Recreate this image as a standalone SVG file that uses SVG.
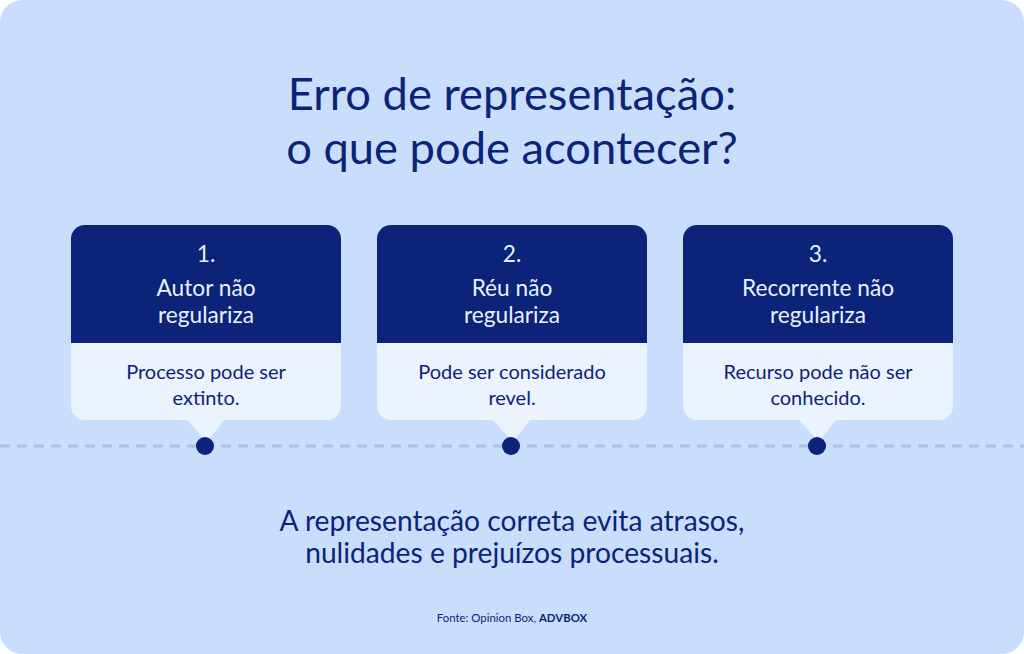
<svg xmlns="http://www.w3.org/2000/svg" width="1024" height="654" viewBox="0 0 1024 654">
<defs>
<style>
.t{font-family:Lato,"Noto Sans",sans-serif;fill:#0c2478;text-anchor:middle}
.h{font-family:Lato,"Noto Sans",sans-serif;fill:#e8f1ff;text-anchor:middle;font-size:22.7px}
.b{font-family:Lato,"Noto Sans",sans-serif;fill:#0c2478;text-anchor:middle;font-size:20px}
.top{fill:#0b2379}
.bot{fill:#eaf3fe}
.dot{fill:#0b2379}
</style>
</defs>
<rect x="0" y="0" width="1024" height="654" fill="#ffffff"/>
<rect x="0" y="0" width="1024" height="654" rx="22" fill="#c9defd"/>
<g id="title">
<text class="t" x="512" y="110" font-size="45.3">Erro de representação:</text>
<text class="t" x="512" y="164" font-size="45.3">o que pode acontecer?</text>
</g>
<g id="connectors">
<line x1="0" y1="446" x2="1024" y2="446" stroke="#a9c2e6" stroke-width="3" stroke-dasharray="10 7"/>
</g>
<g id="card1">
<path class="bot" d="M71 343 H341 V406 a14 14 0 0 1 -14 14 H224 L207 442 L187 420 H85 a14 14 0 0 1 -14 -14 Z"/>
<path class="top" d="M85 225 H327 a14 14 0 0 1 14 14 V343 H71 V239 a14 14 0 0 1 14 -14 Z"/>
<text class="h" x="206" y="262">1.</text>
<text class="h" x="206" y="296">Autor não</text>
<text class="h" x="206" y="323">regulariza</text>
<text class="b" x="206" y="379">Processo pode ser</text>
<text class="b" x="206" y="405">extinto.</text>
<circle class="dot" cx="205" cy="446" r="9"/>
</g>
<g id="card2">
<path class="bot" d="M377 343 H647 V406 a14 14 0 0 1 -14 14 H530 L513 442 L493 420 H391 a14 14 0 0 1 -14 -14 Z"/>
<path class="top" d="M391 225 H633 a14 14 0 0 1 14 14 V343 H377 V239 a14 14 0 0 1 14 -14 Z"/>
<text class="h" x="512" y="262">2.</text>
<text class="h" x="512" y="296">Réu não</text>
<text class="h" x="512" y="323">regulariza</text>
<text class="b" x="512" y="379">Pode ser considerado</text>
<text class="b" x="512" y="405">revel.</text>
<circle class="dot" cx="511" cy="446" r="9"/>
</g>
<g id="card3">
<path class="bot" d="M683 343 H953 V406 a14 14 0 0 1 -14 14 H836 L819 442 L799 420 H697 a14 14 0 0 1 -14 -14 Z"/>
<path class="top" d="M697 225 H939 a14 14 0 0 1 14 14 V343 H683 V239 a14 14 0 0 1 14 -14 Z"/>
<text class="h" x="818" y="262">3.</text>
<text class="h" x="818" y="296">Recorrente não</text>
<text class="h" x="818" y="323">regulariza</text>
<text class="b" x="818" y="379">Recurso pode não ser</text>
<text class="b" x="818" y="405">conhecido.</text>
<circle class="dot" cx="817" cy="446" r="9"/>
</g>
<g id="footer">
<text class="t" x="512" y="531" font-size="28.2">A representação correta evita atrasos,</text>
<text class="t" x="512" y="563" font-size="28.2">nulidades e prejuízos processuais.</text>
<text class="t" x="512" y="622" font-size="11.4">Fonte: Opinion Box, <tspan font-weight="bold">ADVBOX</tspan></text>
</g>
</svg>
